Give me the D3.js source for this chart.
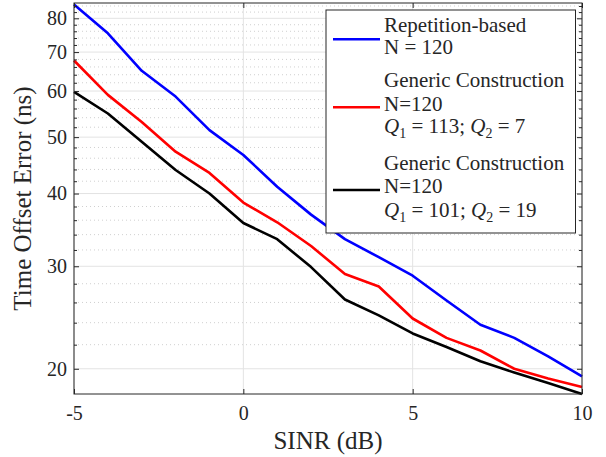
<!DOCTYPE html>
<html>
<head>
<meta charset="utf-8">
<script src="https://cdn.jsdelivr.net/npm/d3@7/dist/d3.min.js"></script>
<style>
  body { margin: 0; background: #fff; }
  svg text { font-family: 'Liberation Serif', 'DejaVu Serif', 'Tinos', serif; fill: #262626; }
</style>
</head>
<body>
<div id="chart"></div>
<script>

// data
const sinr = [-5, -4, -3, -2, -1, 0, 1, 2, 3, 4, 5, 6, 7, 8, 9, 10];
const repetition = [84.5, 75.4, 65.0, 58.7, 51.4, 46.6, 41.1, 36.8, 33.4, 31.1, 28.9, 26.2, 23.8, 22.6, 21.0, 19.4];
const generic113 = [67.7, 59.1, 53.1, 47.2, 43.4, 38.6, 35.7, 32.5, 29.1, 27.7, 24.4, 22.6, 21.5, 20.0, 19.25, 18.6];
const generic101 = [59.8, 54.9, 49.1, 43.9, 40.0, 35.6, 33.4, 29.9, 26.3, 24.7, 23.0, 21.8, 20.6, 19.7, 18.9, 18.1];

const xTicks = [-5, 0, 5, 10];
const yTicks = [20, 30, 40, 50, 60, 70, 80];
const yMinor = [22, 24, 26, 28, 32, 34, 36, 38, 42, 44, 46, 48, 52, 54, 56, 58, 62, 64, 66, 68, 72, 74, 76, 78, 82, 84];

const seriesNames = ["repetition", "generic113", "generic101"];
const seriesColors = ["#0000ff", "#ff0000", "#000000"];

const margin = {top: 3, right: 24, bottom: 63, left: 74};
const W = 606, H = 457;
const width = W - margin.left - margin.right;
const height = H - margin.top - margin.bottom;

var x = d3.scaleLinear().domain([-5, 10]).range([0, width]);
var y = d3.scaleLog().domain([18.1, 85]).range([height, 0]);

const svg = d3.select('#chart')
  .append('svg')
  .attr('width', W)
  .attr('height', H)
  .append('g')
  .attr('transform', 'translate(' + margin.left + ',' + margin.top + ')');

// grid
svg.selectAll('.minorgrid')
  .data(yMinor)
  .enter()
  .append('line')
  .attr('x1', 0).attr('x2', width)
  .attr('y1', d => y(d)).attr('y2', d => y(d))
  .attr('stroke', '#c4c4c4')
  .attr('stroke-width', 0.8)
  .attr('stroke-dasharray', '1,3');

svg.selectAll('.ygrid')
  .data(yTicks)
  .enter()
  .append('line')
  .attr('x1', 0).attr('x2', width)
  .attr('y1', d => y(d)).attr('y2', d => y(d))
  .attr('stroke', '#e3e3e3')
  .attr('stroke-width', 1);

svg.selectAll('.xgrid')
  .data(xTicks)
  .enter()
  .append('line')
  .attr('x1', d => x(d)).attr('x2', d => x(d))
  .attr('y1', 0).attr('y2', height)
  .attr('stroke', '#e3e3e3')
  .attr('stroke-width', 1);

// lines
const line = d3.line()
  .x((d, i) => x(sinr[i]))
  .y(d => y(d));

[repetition, generic113, generic101].forEach(function(s, k) {
  svg.append('path')
    .datum(s)
    .attr('d', line)
    .attr('fill', 'none')
    .attr('stroke', seriesColors[k])
    .attr('stroke-width', 2.6)
    .attr('stroke-linejoin', 'round');
});

// axes (ticks pointing inwards, like matlab)
function styleAxis(g) {
  g.select('.domain').remove();
  g.attr('font-family', null).attr('font-size', null);
  g.selectAll('line').attr('stroke', '#262626');
  g.selectAll('text').attr('fill', '#262626').style('font-size', '20px');
}

const fmt = d => String(d);

svg.append('g')
  .attr('transform', 'translate(0,' + height + ')')
  .call(d3.axisBottom(x).tickValues(xTicks).tickFormat(fmt).tickSize(-5).tickSizeOuter(0).tickPadding(12))
  .call(styleAxis);

svg.append('g')
  .call(d3.axisTop(x).tickValues(xTicks).tickFormat('').tickSize(-5).tickSizeOuter(0))
  .call(styleAxis);

svg.append('g')
  .call(d3.axisLeft(y).tickValues(yTicks).tickFormat(fmt).tickSize(-5).tickSizeOuter(0).tickPadding(7))
  .call(styleAxis);

svg.append('g')
  .call(d3.axisLeft(y).tickValues(yMinor).tickFormat('').tickSize(-3).tickSizeOuter(0))
  .call(styleAxis);

svg.append('g')
  .attr('transform', 'translate(' + width + ',0)')
  .call(d3.axisRight(y).tickValues(yTicks).tickFormat('').tickSize(-5).tickSizeOuter(0))
  .call(styleAxis);

svg.append('g')
  .attr('transform', 'translate(' + width + ',0)')
  .call(d3.axisRight(y).tickValues(yMinor).tickFormat('').tickSize(-3).tickSizeOuter(0))
  .call(styleAxis);

svg.append('rect')
  .attr('width', width)
  .attr('height', height)
  .attr('fill', 'none')
  .attr('stroke', '#262626')
  .attr('stroke-width', 1);

// axis labels
svg.append('text')
  .attr('x', width / 2)
  .attr('y', height + 55)
  .attr('text-anchor', 'middle')
  .style('font-size', '25px')
  .text('SINR (dB)');

svg.append('text')
  .attr('transform', 'translate(' + (31 - margin.left) + ',' + (height / 2) + ') rotate(-90)')
  .attr('text-anchor', 'middle')
  .style('font-size', '25px')
  .text('Time Offset Error (ns)');

// legend
const legend = d3.select('svg').append('g').attr('transform', 'translate(326,10)');

legend.append('rect')
  .attr('width', 249.5)
  .attr('height', 223)
  .attr('fill', '#fff')
  .attr('stroke', '#262626')
  .attr('stroke-width', 1);

const entryY = [29.3, 97.3, 180];
seriesNames.forEach(function(n, k) {
  legend.append('line')
    .attr('x1', 7).attr('x2', 54)
    .attr('y1', entryY[k]).attr('y2', entryY[k])
    .attr('stroke', seriesColors[k])
    .attr('stroke-width', 2.6);
});

function addText(txt, by) {
  return legend.append('text')
    .attr('x', 58)
    .attr('y', by)
    .style('font-size', '21px')
    .text(txt);
}

function addQ(by, q1, q2) {
  const t = legend.append('text')
    .attr('x', 58)
    .attr('y', by)
    .style('font-size', '21px');
  t.append('tspan').style('font-style', 'italic').text('Q');
  t.append('tspan').attr('dy', 5).style('font-size', '14px').text('1');
  t.append('tspan').attr('dy', -5).text(' = ' + q1 + '; ');
  t.append('tspan').style('font-style', 'italic').text('Q');
  t.append('tspan').attr('dy', 5).style('font-size', '14px').text('2');
  t.append('tspan').attr('dy', -5).text(' = ' + q2);
}

addText('Repetition-based', 21.7);
addText('N = 120', 44.3);
addText('Generic Construction', 77.3);
addText('N=120', 101);
addQ(123.3, 113, 7);
addText('Generic Construction', 160);
addText('N=120', 183.3);
addQ(206.7, 101, 19);

</script>
</body>
</html>
